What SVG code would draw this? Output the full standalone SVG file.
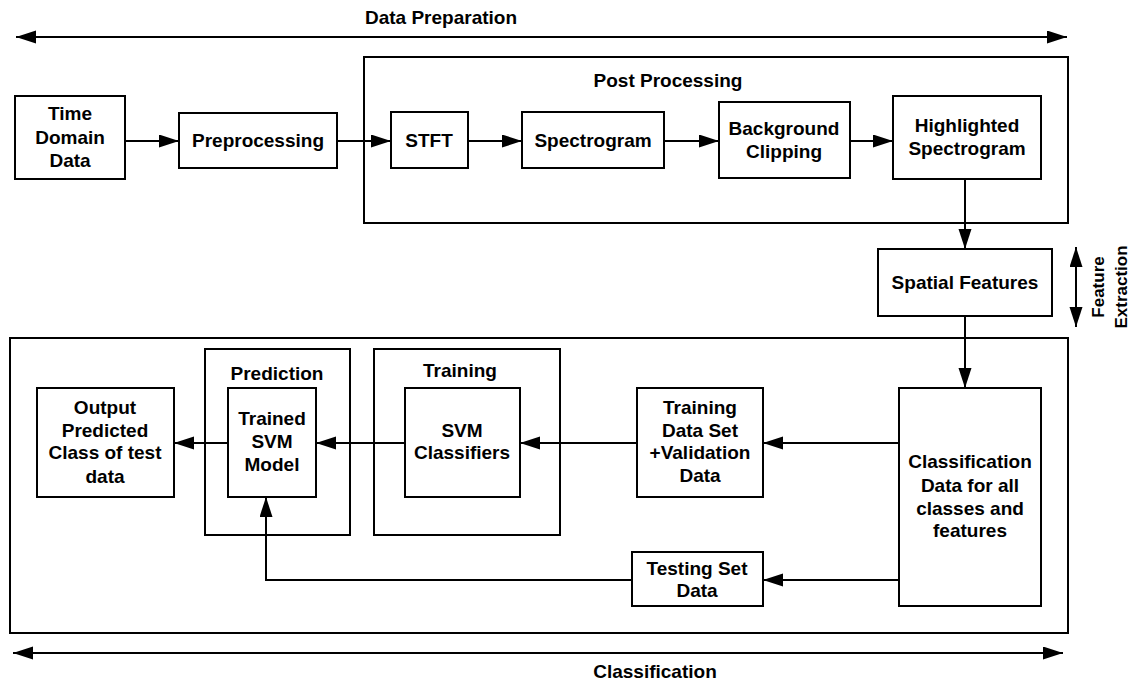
<svg xmlns="http://www.w3.org/2000/svg" width="1135" height="684" viewBox="0 0 1135 684">
<style>
.box{fill:#fff;stroke:#000;stroke-width:2}
.grp{fill:none;stroke:#000;stroke-width:2}
.t{font-family:"Liberation Sans",Arial,sans-serif;font-weight:bold;font-size:19px;fill:#000;text-anchor:middle}
.s{font-size:17px}
.c{fill:none;stroke:#000;stroke-width:2}
</style>
<defs>
<marker id="ah" markerUnits="userSpaceOnUse" markerWidth="22" markerHeight="14" refX="20" refY="6.5" orient="auto-start-reverse" viewBox="0 0 22 14">
<path d="M0,0 L20,6.5 L0,13 z" fill="#000"/>
</marker>
</defs>
<rect width="1135" height="684" fill="#fff"/>

<g id="post-processing">
<rect class="grp" x="364" y="57" width="704" height="166"/>
<text class="t" x="668" y="87">Post Processing</text>
</g>
<g id="classification-group">
<rect class="grp" x="10" y="338" width="1058" height="295"/>
</g>
<g id="prediction">
<rect class="grp" x="205" y="349" width="145" height="186"/>
<text class="t" x="277" y="380">Prediction</text>
</g>
<g id="training">
<rect class="grp" x="374" y="349" width="186" height="186"/>
<text class="t" x="460" y="377">Training</text>
</g>

<g id="connectors">
<line class="c" x1="16" y1="37" x2="1067" y2="37" marker-start="url(#ah)" marker-end="url(#ah)"/>
<line class="c" x1="125" y1="141" x2="179" y2="141" marker-end="url(#ah)"/>
<line class="c" x1="337" y1="141" x2="391" y2="141" marker-end="url(#ah)"/>
<line class="c" x1="468" y1="141" x2="522" y2="141" marker-end="url(#ah)"/>
<line class="c" x1="664" y1="141" x2="719" y2="141" marker-end="url(#ah)"/>
<line class="c" x1="850" y1="141" x2="893" y2="141" marker-end="url(#ah)"/>
<line class="c" x1="965" y1="179" x2="965" y2="249" marker-end="url(#ah)"/>
<line class="c" x1="965" y1="316" x2="965" y2="388" marker-end="url(#ah)"/>
<line class="c" x1="899" y1="443" x2="763" y2="443" marker-end="url(#ah)"/>
<line class="c" x1="637" y1="443" x2="520" y2="443" marker-end="url(#ah)"/>
<line class="c" x1="405" y1="443" x2="316" y2="443" marker-end="url(#ah)"/>
<line class="c" x1="228" y1="443" x2="174" y2="443" marker-end="url(#ah)"/>
<line class="c" x1="899" y1="580" x2="763" y2="580" marker-end="url(#ah)"/>
<polyline class="c" points="632,580 266,580 266,497" marker-end="url(#ah)"/>
<line class="c" x1="1076" y1="247" x2="1076" y2="327" marker-start="url(#ah)" marker-end="url(#ah)"/>
<line class="c" x1="13" y1="653" x2="1063" y2="653" marker-start="url(#ah)" marker-end="url(#ah)"/>
</g>

<g id="label-data-preparation"><text class="t" x="441" y="24">Data Preparation</text></g>
<g id="label-classification"><text class="t" x="655" y="678">Classification</text></g>
<g id="label-feature-extraction">
<text class="t s" transform="translate(1104,287) rotate(-90)">Feature</text>
<text class="t s" transform="translate(1127,287) rotate(-90)">Extraction</text>
</g>

<g id="time-domain-data">
<rect class="box" x="15" y="96" width="110" height="83"/>
<text class="t" x="70" y="120">Time</text>
<text class="t" x="70" y="144">Domain</text>
<text class="t" x="70" y="167">Data</text>
</g>
<g id="preprocessing">
<rect class="box" x="179" y="113" width="158" height="55"/>
<text class="t" x="258" y="147">Preprocessing</text>
</g>
<g id="stft">
<rect class="box" x="391" y="112" width="77" height="56"/>
<text class="t" x="429" y="147">STFT</text>
</g>
<g id="spectrogram">
<rect class="box" x="522" y="112" width="142" height="56"/>
<text class="t" x="593" y="147">Spectrogram</text>
</g>
<g id="background-clipping">
<rect class="box" x="719" y="102" width="131" height="76"/>
<text class="t" x="784" y="135">Background</text>
<text class="t" x="784" y="158">Clipping</text>
</g>
<g id="highlighted-spectrogram">
<rect class="box" x="893" y="96" width="148" height="83"/>
<text class="t" x="967" y="132">Highlighted</text>
<text class="t" x="967" y="155">Spectrogram</text>
</g>
<g id="spatial-features">
<rect class="box" x="878" y="249" width="174" height="67"/>
<text class="t" x="965" y="289">Spatial Features</text>
</g>
<g id="classification-data">
<rect class="box" x="899" y="388" width="142" height="218"/>
<text class="t" x="970" y="468">Classification</text>
<text class="t" x="970" y="492">Data for all</text>
<text class="t" x="970" y="515">classes and</text>
<text class="t" x="970" y="537">features</text>
</g>
<g id="training-data-set">
<rect class="box" x="637" y="388" width="126" height="109"/>
<text class="t" x="700" y="414">Training</text>
<text class="t" x="700" y="437">Data Set</text>
<text class="t" x="700" y="459">+Validation</text>
<text class="t" x="700" y="482">Data</text>
</g>
<g id="testing-set-data">
<rect class="box" x="632" y="552" width="131" height="54"/>
<text class="t" x="697" y="575">Testing Set</text>
<text class="t" x="697" y="597">Data</text>
</g>
<g id="svm-classifiers">
<rect class="box" x="405" y="388" width="115" height="109"/>
<text class="t" x="462" y="437">SVM</text>
<text class="t" x="462" y="459">Classifiers</text>
</g>
<g id="trained-svm-model">
<rect class="box" x="228" y="388" width="88" height="109"/>
<text class="t" x="272" y="425">Trained</text>
<text class="t" x="272" y="448">SVM</text>
<text class="t" x="272" y="471">Model</text>
</g>
<g id="output-predicted">
<rect class="box" x="37" y="388" width="137" height="109"/>
<text class="t" x="105" y="414">Output</text>
<text class="t" x="105" y="437">Predicted</text>
<text class="t" x="105" y="459">Class of test</text>
<text class="t" x="105" y="483">data</text>
</g>
</svg>
